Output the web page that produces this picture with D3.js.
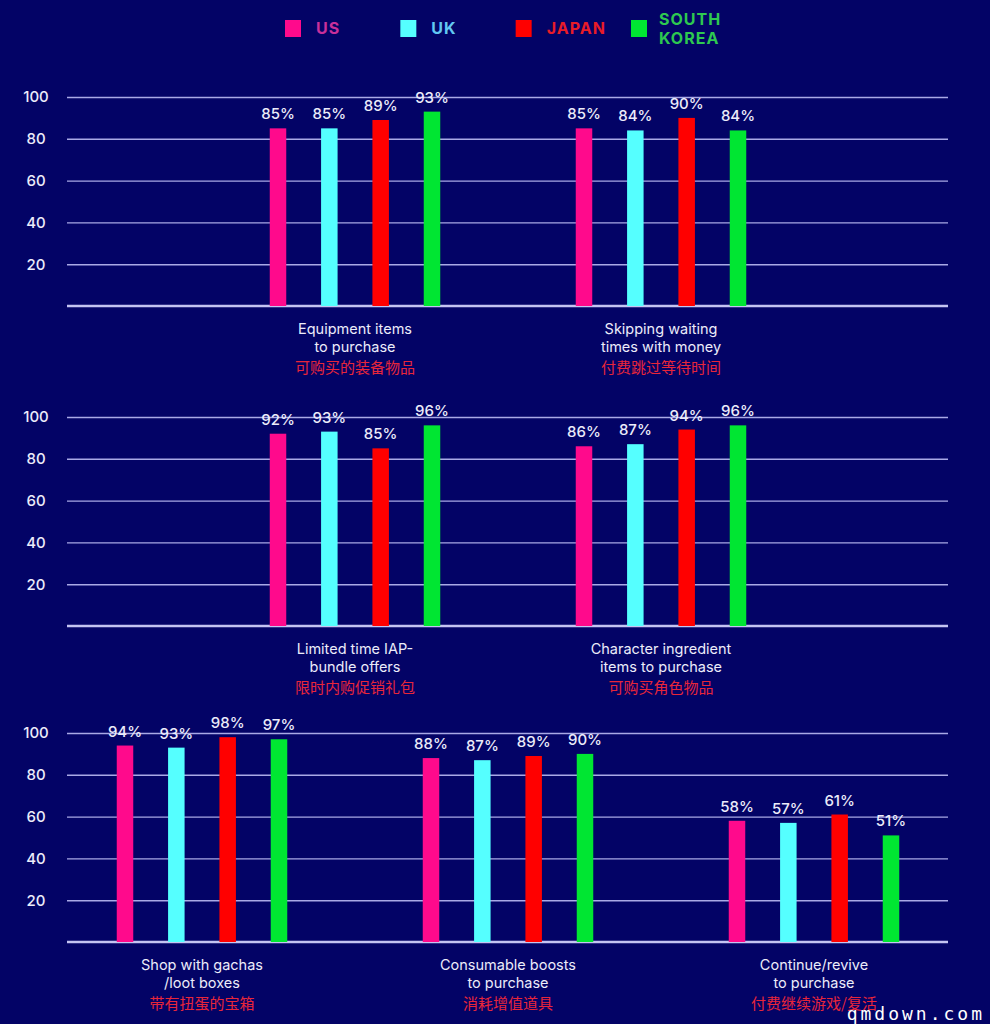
<!DOCTYPE html>
<html>
<head>
<meta charset="utf-8">
<script src="https://cdn.jsdelivr.net/npm/d3@7"></script>
<style>
  html, body { margin: 0; padding: 0; background: #030366; }
  svg { display: block; }
</style>
</head>
<body>
<div id="chart"></div>
<script>
// ---------- DATA ----------
const seriesNames = ["US", "UK", "JAPAN", "SOUTH KOREA"];
const yTicks = [20, 40, 60, 80, 100];

const row1Categories = [["Equipment items", "to purchase"], ["Skipping waiting", "times with money"]];
const row1Chinese = ["可购买的装备物品", "付费跳过等待时间"];
const row1Values = [[85, 85, 89, 93], [85, 84, 90, 84]];

const row2Categories = [["Limited time IAP-", "bundle offers"], ["Character ingredient", "items to purchase"]];
const row2Chinese = ["限时内购促销礼包", "可购买角色物品"];
const row2Values = [[92, 93, 85, 96], [86, 87, 94, 96]];

const row3Categories = [["Shop with gachas", "/loot boxes"], ["Consumable boosts", "to purchase"], ["Continue/revive", "to purchase"]];
const row3Chinese = ["带有扭蛋的宝箱", "消耗增值道具", "付费继续游戏/复活"];
const row3Values = [[94, 93, 98, 97], [88, 87, 89, 90], [58, 57, 61, 51]];

const watermark = "qmdown.com";

// ---------- STYLE / LAYOUT ----------
const W = 990, H = 1024;
const bg = "#030366";
const barColors = ["#ff0a8c", "#55ffff", "#ff0000", "#00e632"];
const legendTextColors = ["#c8309a", "#62c8f2", "#e81c28", "#2ec850"];
const gridColor = "#a9a9e6";
const textColor = "#ececfa";
const cnColor = "#e8263a";
const plotLeft = 67, plotRight = 948;
const groupStep = 306, plotCenter = 508;
const barWidth = 16.5;
const fontMain = "Inter, 'Open Sans', 'DejaVu Sans', sans-serif";

const rows = [
  { cats: row1Categories, cn: row1Chinese, vals: row1Values, base: 306, top: 97 },
  { cats: row2Categories, cn: row2Chinese, vals: row2Values, base: 626, top: 417 },
  { cats: row3Categories, cn: row3Chinese, vals: row3Values, base: 942, top: 733 }
];

const svg = d3.select("#chart").append("svg")
  .attr("width", W).attr("height", H)
  .attr("viewBox", [0, 0, W, H]);

svg.append("rect").attr("width", W).attr("height", H).attr("fill", bg);

// ---------- LEGEND ----------
const legendX = d3.scalePoint().domain(seriesNames).range([285, 631]);
const legend = svg.append("g");
seriesNames.forEach((s, i) => {
  const g = legend.append("g").attr("transform", `translate(${legendX(s)},20)`);
  g.append("rect").attr("width", 16).attr("height", 17).attr("fill", barColors[i]);
  const lines = s.split(" ");
  const t = g.append("text")
    .attr("x", i === 3 ? 28 : 31)
    .attr("fill", legendTextColors[i])
    .attr("font-family", fontMain)
    .attr("font-weight", 700)
    .attr("font-size", 16)
    .attr("letter-spacing", 1);
  if (lines.length === 1) {
    t.attr("y", 14).text(s);
  } else {
    lines.forEach((ln, k) => t.append("tspan").attr("x", 28).attr("y", 5 + k * 19).text(ln));
  }
});

const innerX = d3.scalePoint().domain(seriesNames).range([-77, 77]);

// ---------- ROWS ----------
rows.forEach((row, ri) => {
  const n = row.cats.length;
  const x = d3.scaleBand()
    .domain(d3.range(n))
    .range([plotCenter - n * groupStep / 2, plotCenter + n * groupStep / 2]);
  const y = d3.scaleLinear().domain([0, 100]).range([row.base, row.top]);

  const g = svg.append("g");

  // gridlines + y labels
  const axis = d3.axisLeft(y).tickValues(yTicks).tickSize(-(plotRight - plotLeft)).tickPadding(0);
  const ax = g.append("g").attr("transform", `translate(${plotLeft},0)`).call(axis);
  ax.select(".domain").remove();
  ax.selectAll(".tick line").attr("stroke", gridColor).attr("stroke-width", 1.4);
  ax.selectAll(".tick text")
    .attr("x", -31).attr("text-anchor", "middle")
    .attr("fill", textColor)
    .attr("font-family", fontMain)
    .attr("font-weight", 500)
    .attr("font-size", 15);

  // baseline
  g.append("line")
    .attr("x1", plotLeft).attr("x2", plotRight)
    .attr("y1", y(0)).attr("y2", y(0))
    .attr("stroke", "#c4c4f2").attr("stroke-width", 2.5);

  // bars
  row.vals.forEach((vals, ci) => {
    const cx = x(ci) + x.bandwidth() / 2;
    const grp = g.append("g").attr("transform", `translate(${cx},0)`);
    grp.selectAll("rect.bar").data(vals).join("rect")
      .attr("class", "bar")
      .attr("x", (d, i) => innerX(seriesNames[i]) - barWidth / 2)
      .attr("width", barWidth)
      .attr("y", d => y(d))
      .attr("height", d => y(0) - y(d))
      .attr("fill", (d, i) => barColors[i]);
    grp.selectAll("text.val").data(vals).join("text")
      .attr("class", "val")
      .attr("x", (d, i) => innerX(seriesNames[i]))
      .attr("y", d => y(d) - 9)
      .attr("text-anchor", "middle")
      .attr("fill", textColor)
      .attr("font-family", fontMain)
      .attr("font-weight", 500)
      .attr("font-size", 15)
      .text(d => d + "%");

    // category label
    const lbl = g.append("text")
      .attr("text-anchor", "middle")
      .attr("fill", textColor)
      .attr("font-family", fontMain)
      .attr("font-weight", 400)
      .attr("font-size", 14.5);
    row.cats[ci].forEach((ln, k) => {
      lbl.append("tspan").attr("x", cx).attr("y", y(0) + 28 + k * 18).text(ln);
    });
    g.append("text")
      .attr("x", cx).attr("y", y(0) + 67)
      .attr("text-anchor", "middle")
      .attr("fill", cnColor)
      .attr("font-family", "'Noto Sans CJK SC', sans-serif")
      .attr("font-size", 15)
      .text(row.cn[ci]);
  });
});

// watermark
svg.append("text")
  .attr("x", 985).attr("y", 1020)
  .attr("text-anchor", "end")
  .attr("fill", "#ffffff")
  .attr("font-family", "'DejaVu Sans Mono', monospace")
  .attr("font-size", 18)
  .attr("letter-spacing", 3)
  .text(watermark);
</script>
</body>
</html>
